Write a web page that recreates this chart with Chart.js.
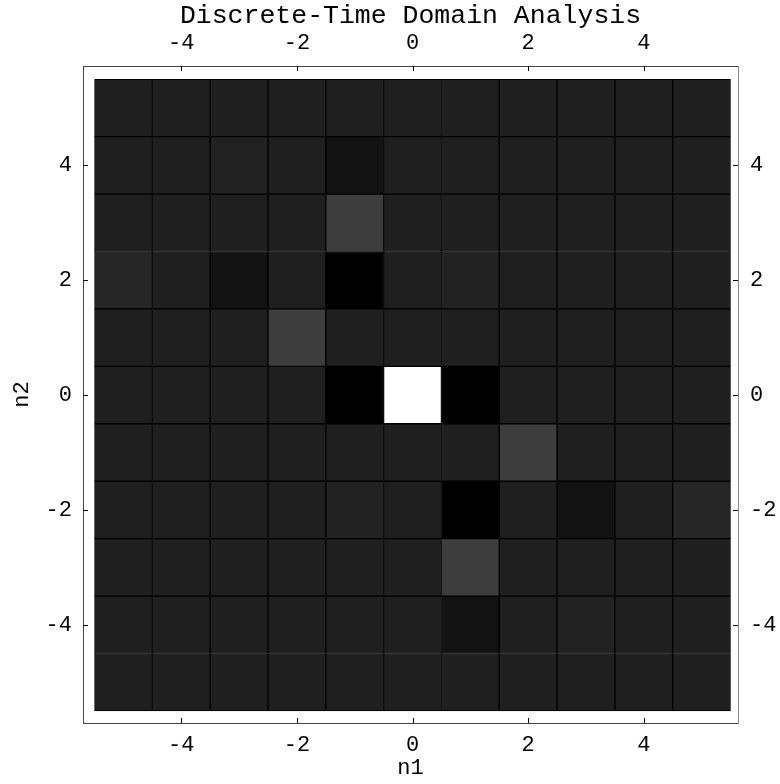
<!DOCTYPE html>
<html>
<head>
<meta charset="utf-8">
<script src="https://cdn.jsdelivr.net/npm/chart.js@4.4.1/dist/chart.umd.min.js"></script>
<style>
  html, body { margin: 0; padding: 0; background: #fff; }
</style>
</head>
<body>
<canvas id="graficoDensidade" width="780" height="784"></canvas>
<script>
// eixos da grade
const n1 = [-5, -4, -3, -2, -1, 0, 1, 2, 3, 4, 5]
const n2 = [5, 4, 3, 2, 1, 0, -1, -2, -3, -4, -5]
const tickVals = [-4, -2, 0, 2, 4]

// nivel de cinza por celula (0 = preto, 1 = branco), linhas de n2 = 5 ate -5
const b = 0.122
const nivel = [
  [b, b, b, b, b, b, b, b, b, b, b],
  [b, b, 0.133, b, 0.071, b, b, b, b, b, b],
  [b, b, b, b, 0.24, b, b, b, b, b, b],
  [0.149, b, 0.071, b, 0, b, 0.133, b, b, b, b],
  [b, b, b, 0.24, b, b, b, b, b, b, b],
  [b, b, b, b, 0, 1, 0, b, b, b, b],
  [b, b, b, b, b, b, b, 0.24, b, b, b],
  [b, b, b, b, 0.133, b, 0, b, 0.071, b, 0.149],
  [b, b, b, b, b, b, 0.24, b, b, b, b],
  [b, b, b, b, b, b, 0.071, b, 0.133, b, b],
  [b, b, b, b, b, b, b, b, b, b, b]
]

let celulas = [], cores = []
n2.forEach((yy, i) => {
  n1.forEach((xx, j) => {
    celulas.push({ x: xx, y: [yy - 0.5, yy + 0.5] })
    let g = Math.round(nivel[i][j] * 255)
    cores.push(`rgb(${g},${g},${g})`)
  })
})

const familia = "'Courier New', 'Liberation Mono', monospace"
const fonteTick = { family: familia, size: 22 }
const fixarTicks = s => { s.ticks = tickVals.map(v => ({ value: v })) }

// marcas de tick voltadas para dentro do quadro
const marcasInternas = {
  id: 'marcasInternas',
  afterDatasetsDraw(chart) {
    const ctx = chart.ctx, a = chart.chartArea, L = 5
    ctx.save()
    ctx.strokeStyle = '#000'
    ctx.lineWidth = 1
    ;['x', 'x2', 'y', 'y2'].forEach(id => {
      const s = chart.scales[id]
      s.ticks.forEach(t => {
        const p = Math.round(s.getPixelForValue(t.value)) + 0.5
        ctx.beginPath()
        if (id === 'x') { ctx.moveTo(p, a.bottom); ctx.lineTo(p, a.bottom - L) }
        if (id === 'x2') { ctx.moveTo(p, a.top); ctx.lineTo(p, a.top + L) }
        if (id === 'y') { ctx.moveTo(a.left, p); ctx.lineTo(a.left + L, p) }
        if (id === 'y2') { ctx.moveTo(a.right, p); ctx.lineTo(a.right - L, p) }
        ctx.stroke()
      })
    })
    ctx.restore()
  }
}

const gradeOff = { display: true, drawOnChartArea: false, drawTicks: false }

new Chart(document.getElementById('graficoDensidade'), {
  type: 'bar',
  data: {
    datasets: [{
      label: 'densidade',
      data: celulas,
      backgroundColor: cores,
      borderColor: '#000',
      borderWidth: 1,
      borderSkipped: false,
      barPercentage: 1,
      categoryPercentage: 1
    }]
  },
  options: {
    responsive: false,
    animation: false,
    layout: { padding: 0 },
    plugins: {
      legend: { display: false },
      tooltip: { enabled: false }
    },
    scales: {
      x: {
        type: 'linear', position: 'bottom', min: -5.7, max: 5.63, offset: false,
        afterBuildTicks: fixarTicks,
        afterFit: s => { s.height = 61 },
        grid: gradeOff,
        border: { color: '#444' },
        ticks: { font: fonteTick, color: '#000', padding: 9, maxRotation: 0, autoSkip: false },
        title: { display: true, text: 'n1', color: '#000', font: fonteTick, padding: { top: 0, bottom: 3 } }
      },
      x2: {
        type: 'linear', position: 'top', min: -5.7, max: 5.63, offset: false,
        afterBuildTicks: fixarTicks,
        afterFit: s => { s.height = 66 },
        grid: gradeOff,
        border: { color: '#444' },
        ticks: { font: fonteTick, color: '#000', padding: 10, maxRotation: 0, autoSkip: false },
        title: {
          display: true, text: 'Discrete-Time Domain Analysis', color: '#000',
          font: { family: familia, size: 26.5, lineHeight: 1.2 },
          padding: { top: 0, bottom: 0 }
        }
      },
      y: {
        type: 'linear', position: 'left', min: -5.71, max: 5.73,
        afterBuildTicks: fixarTicks,
        afterFit: s => { s.width = 83 },
        grid: gradeOff,
        border: { color: '#444' },
        ticks: { font: fonteTick, color: '#000', padding: 11 },
        title: { display: true, text: 'n2', color: '#000', font: fonteTick, padding: { top: 9, bottom: 0 } }
      },
      y2: {
        type: 'linear', position: 'right', min: -5.71, max: 5.73,
        afterBuildTicks: fixarTicks,
        afterFit: s => { s.width = 42 },
        grid: gradeOff,
        border: { color: '#888' },
        ticks: { font: fonteTick, color: '#000', padding: 12 }
      }
    }
  },
  plugins: [marcasInternas]
})
</script>
</body>
</html>
